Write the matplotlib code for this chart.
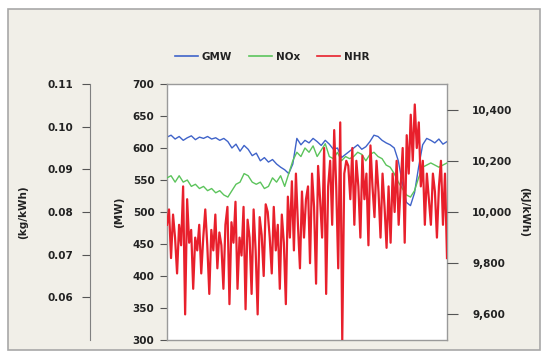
import numpy as np
import matplotlib
matplotlib.use("Agg")
import matplotlib.pyplot as plt
from matplotlib.patches import Rectangle

# ---------------- data ----------------
gmw = [617, 620, 614, 618, 612, 616, 619, 613, 617, 615, 618, 614, 616, 612, 615,
       610, 600, 606, 595, 604, 598, 588, 592, 580, 585,
       578, 582, 575, 570, 566, 560, 575, 615, 605, 612,
       608, 615, 610, 604, 612, 606, 598, 600, 585, 590,
       595, 600, 605, 598, 602, 610, 620, 618, 612, 608,
       605, 600, 580, 545, 515, 510, 530, 570, 605, 615,
       612, 608, 614, 606, 610]

nox = [0.088, 0.0885, 0.087, 0.0885, 0.087, 0.0875, 0.086, 0.0865, 0.0855, 0.086,
       0.085, 0.0855, 0.0845, 0.085, 0.084,
       0.0835, 0.085, 0.0865, 0.087, 0.089, 0.0885, 0.087, 0.0865, 0.087, 0.0855,
       0.086, 0.088, 0.087, 0.0885, 0.086, 0.089, 0.092, 0.094, 0.093, 0.095,
       0.094, 0.0955, 0.093, 0.0945, 0.096, 0.093, 0.0925, 0.094, 0.092, 0.093,
       0.0925, 0.093, 0.094, 0.0935, 0.092, 0.0935, 0.094, 0.093, 0.0925, 0.091,
       0.0905, 0.089, 0.087, 0.0855, 0.084, 0.0835, 0.085, 0.088, 0.0905, 0.091,
       0.0915, 0.091, 0.0905, 0.091, 0.0915]

nhr = [9950, 10010, 9820, 9990, 9900, 9760, 9950, 9870, 10100, 9600,
       10050, 9880, 9930, 9700, 9900, 9850, 9950, 9760, 9900, 10010,
       9870, 9680, 9930, 9850, 9990, 9780, 9920, 9870, 9700, 9950,
       10020, 9640, 9960, 9880, 10040, 9700, 9900, 9830, 10020, 9620,
       9970, 9900, 9680, 10010, 9850, 9600, 9980, 9910, 9750, 10030,
       10000, 9900, 9760, 10020, 9850, 9950, 9700, 9990, 9880, 9640,
       10060, 9900, 10120, 9850, 10150, 9950, 9780, 10080, 9900, 10050,
       10100, 9800, 10150, 10020, 9720, 10180, 10050, 9900, 10250, 9680,
       10100, 10200, 9950, 10320, 10100, 9780, 10350, 9500, 10150, 10200,
       10180, 10050, 10250, 9950, 10200, 10100, 9900, 10220, 10050, 10150,
       9870, 10260, 10100, 9980, 10200, 10080, 9900, 10150, 10020, 9860,
       10100, 9880, 10150, 10000, 10200, 9950, 10100, 10250, 9880, 10300,
       10150, 10380, 10200, 10420, 10250, 10350, 10100, 10200, 9950, 10150,
       10050, 9950, 10150, 10080, 9900, 10100, 10200, 9950, 10150, 9820]

nox_ticks = [0.06, 0.07, 0.08, 0.09, 0.10, 0.11]
mw_ticks = [300, 350, 400, 450, 500, 550, 600, 650, 700]
nhr_ticks = [9600, 9800, 10000, 10200, 10400]
nhr_ticklabels = ["9,600", "9,800", "10,000", "10,200", "10,400"]

series_names = ["GMW", "NOx", "NHR"]
c_gmw = "#3f63c9"
c_nox = "#5cc45c"
c_nhr = "#e8202c"

# ---------------- figure ----------------
W, H = 545, 353
fig = plt.figure(figsize=(W / 100, H / 100), dpi=100, facecolor="white")
bg = Rectangle((8 / W, 1 - 350 / H), (540 - 8) / W, (350 - 9) / H,
               transform=fig.transFigure, facecolor="#f1efe8",
               edgecolor="#a8a8a8", linewidth=1.2, zorder=-10)
fig.add_artist(bg)

ax = fig.add_axes([167 / W, 1 - 340 / H, (447 - 167) / W, (340 - 84) / H])
ax.set_facecolor("white")
for s in ax.spines.values():
    s.set_color("#9a9a9a")
    s.set_linewidth(1.0)

fs = 7.5
tick_kw = dict(labelsize=fs, colors="#555555", labelcolor="#222222", width=0.8)

x_red = np.arange(len(nhr))
x_bg = np.linspace(0, len(nhr) - 1, len(gmw))

# GMW on main axis
l1, = ax.plot(x_bg, gmw, color=c_gmw, lw=1.0, zorder=2)
ax.set_ylim(300, 700)
ax.set_yticks(mw_ticks)
ax.set_xlim(0, len(nhr) - 1)
ax.set_xticks([])
ax.tick_params(axis="y", direction="out", length=5, pad=4, **tick_kw)
for t in ax.get_yticklabels():
    t.set_fontweight("bold")
ax.set_ylabel("(MW)", fontsize=fs, fontweight="bold", color="#222222", labelpad=6)

# NOx on offset left axis
ax2 = ax.twinx()
ax2.patch.set_visible(False)
ax2.spines["right"].set_visible(False)
ax2.spines["top"].set_visible(False)
ax2.spines["bottom"].set_visible(False)
ax2.spines["left"].set_visible(True)
ax2.spines["left"].set_position(("axes", (90 - 167) / (447 - 167)))
ax2.spines["left"].set_color("#808080")
ax2.yaxis.set_ticks_position("left")
ax2.yaxis.set_label_position("left")
l2, = ax2.plot(x_bg, nox, color=c_nox, lw=1.0, zorder=2)
ax2.set_ylim(0.05, 0.11)
ax2.set_yticks(nox_ticks)
ax2.set_yticklabels([f"{v:.2f}" for v in nox_ticks])
ax2.tick_params(axis="y", direction="out", length=6, pad=6, **tick_kw)
for t in ax2.get_yticklabels():
    t.set_fontweight("bold")
ax2.set_ylabel("(kg/kWh)", fontsize=fs, fontweight="bold", color="#222222", labelpad=14)

# NHR on right axis
ax3 = ax.twinx()
ax3.patch.set_visible(False)
for s in ax3.spines.values():
    s.set_visible(False)
l3, = ax3.plot(x_red, nhr, color=c_nhr, lw=1.6, zorder=3)
ax3.set_ylim(9500, 10500)
ax3.set_yticks(nhr_ticks)
ax3.set_yticklabels(nhr_ticklabels)
ax3.tick_params(axis="y", direction="out", length=8, pad=10, **tick_kw)
for t in ax3.get_yticklabels():
    t.set_fontweight("bold")
ax3.set_ylabel("(kJ/kWh)", fontsize=fs, fontweight="bold", color="#222222",
               rotation=270, labelpad=12)

leg = fig.legend([l1, l2, l3], series_names, loc="center",
                 bbox_to_anchor=(272 / W, 1 - 57 / H), ncol=3, frameon=False,
                 fontsize=fs, handlelength=2.2, handletextpad=0.4, columnspacing=1.6)
for t in leg.get_texts():
    t.set_fontweight("bold")
    t.set_color("#222222")
for h in leg.legend_handles:
    h.set_linewidth(1.2)

fig.savefig("out.png", dpi=100, facecolor=fig.get_facecolor())
